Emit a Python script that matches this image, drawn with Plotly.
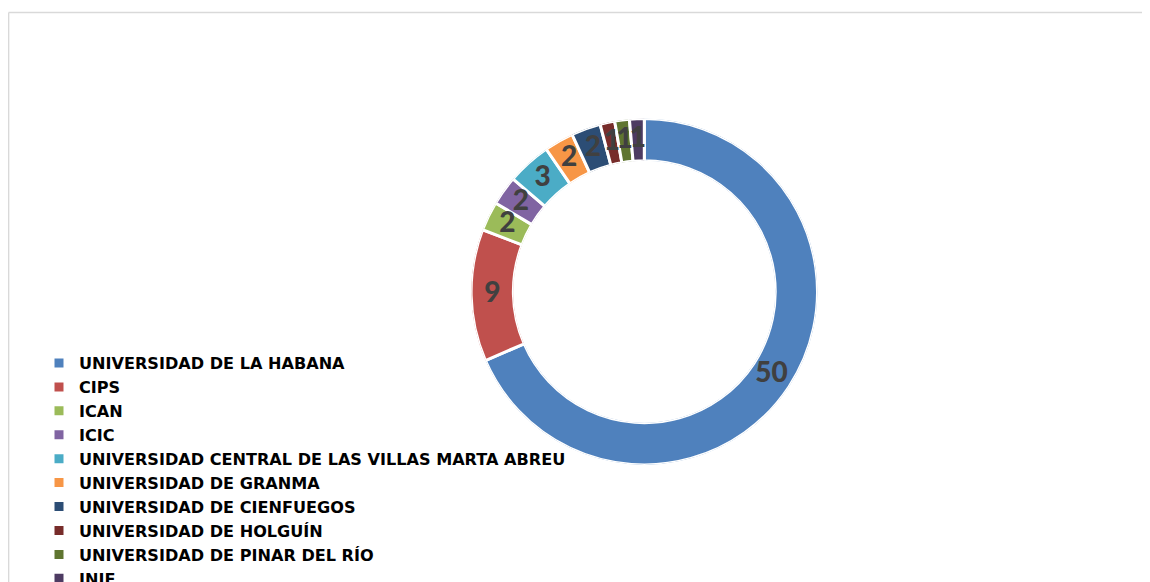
import plotly.graph_objects as go

labels = [
    "UNIVERSIDAD DE LA HABANA",
    "CIPS",
    "ICAN",
    "ICIC",
    "UNIVERSIDAD CENTRAL DE LAS VILLAS MARTA ABREU",
    "UNIVERSIDAD DE GRANMA",
    "UNIVERSIDAD DE CIENFUEGOS",
    "UNIVERSIDAD DE HOLGUÍN",
    "UNIVERSIDAD DE PINAR DEL RÍO",
    "INIE",
]
values = [50, 9, 2, 2, 3, 2, 2, 1, 1, 1]
colors = ["#4F81BD", "#C0504D", "#9BBB59", "#8064A2", "#4BACC6",
          "#F79646", "#2C4D75", "#772C2A", "#5F7530", "#4D3B62"]

W, H = 1150, 582
HOLE = 0.756

# doughnut domain (pixels -> paper fractions)
cx, cy, rd = 636.3, 283.7, 173.2
dom_x = [(cx - rd) / W, (cx + rd) / W]
dom_y = [1 - (cy + rd) / H, 1 - (cy - rd) / H]

# angular extent of each slice (degrees clockwise from 12 o'clock), derived from the values
total = sum(values)
widths = [v / total * 360 for v in values]
mid_theta = []
acc = 0
for v in values:
    mid_theta.append((acc + v / 2) / total * 360)
    acc += v

fig = go.Figure()
for lab, v, th, wd, col in zip(labels, values, mid_theta, widths, colors):
    fig.add_trace(go.Barpolar(
        name=lab,
        r=[1],
        theta=[th],
        width=[wd],
        marker=dict(color=col, line=dict(color="white", width=3)),
        hovertemplate=lab + ": " + str(v) + "<extra></extra>",
    ))

# value labels in the middle of the ring
fig.add_trace(go.Scatterpolar(
    r=[0.5] * len(values),
    theta=mid_theta,
    mode="text",
    text=[str(v) for v in values],
    textposition="middle center",
    textfont=dict(family="Lato", size=28, color="#404040", weight=900),
    showlegend=False,
    hoverinfo="skip",
))

fig.update_layout(
    width=W, height=H,
    margin=dict(l=0, r=0, t=0, b=0, autoexpand=False),
    paper_bgcolor="white",
    plot_bgcolor="white",
    polar=dict(
        domain=dict(x=dom_x, y=dom_y),
        bgcolor="rgba(0,0,0,0)",
        hole=HOLE,
        bargap=0,
        radialaxis=dict(visible=False, range=[0, 1]),
        angularaxis=dict(visible=False, rotation=90, direction="clockwise"),
    ),
    legend=dict(
        x=31 / W, xanchor="left",
        y=1 - 338 / H, yanchor="top",
        font=dict(family="DejaVu Sans", size=16.1, color="#000000", weight="bold"),
        bgcolor="rgba(0,0,0,0)",
        itemclick=False,
        traceorder="normal",
    ),
    showlegend=True,
    shapes=[
        dict(type="line", xref="paper", yref="paper",
             x0=0.6 / W, x1=1.01, y0=1 - 4.5 / H, y1=1 - 4.5 / H,
             line=dict(color="#D9D9D9", width=1.5)),
        dict(type="line", xref="paper", yref="paper",
             x0=0.6 / W, x1=0.6 / W, y0=1 - 4.5 / H, y1=-0.01,
             line=dict(color="#D9D9D9", width=1.5)),
    ],
)

fig.write_html("out.html")
